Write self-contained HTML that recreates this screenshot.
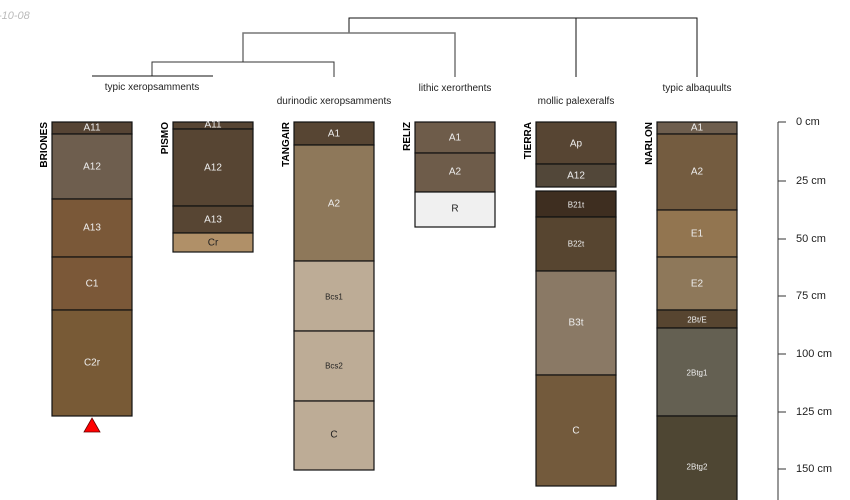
<!DOCTYPE html>
<html><head><meta charset="utf-8"><style>
html,body{margin:0;padding:0;background:#fff;}
svg{display:block;font-family:"Liberation Sans",sans-serif;}
.h{font-size:10px;fill:#eee;text-anchor:middle;dominant-baseline:central;}
.s{font-size:8px;}
.d{fill:#222;}
.n{font-size:10px;font-weight:bold;text-anchor:end;fill:#000;}
.l{font-size:10px;fill:#222;text-anchor:middle;}
.a{font-size:11px;fill:#222;}
rect{stroke:#111;stroke-width:1.2;}
</style></head><body>
<svg width="850" height="500" viewBox="0 0 850 500" xmlns="http://www.w3.org/2000/svg">
<text x="-2" y="19" font-size="11" font-style="italic" fill="#bbb">-10-08</text>
<!-- dendrogram -->
<g fill="none" stroke-width="1">
<polyline points="349,33 349,18 697,18 697,77" stroke="#111"/>
<line x1="576" y1="18" x2="576" y2="77" stroke="#111"/>
<polyline points="243,62 243,33 455,33 455,77" stroke="#777" stroke-width="1.5"/>
<polyline points="152,76 152,62 334,62 334,77" stroke="#333"/>
<line x1="92" y1="76" x2="213" y2="76" stroke="#111"/>
</g>
<text class="l" x="152" y="90">typic xeropsamments</text>
<text class="l" x="334" y="104">durinodic xeropsamments</text>
<text class="l" x="455" y="91">lithic xerorthents</text>
<text class="l" x="576" y="104">mollic palexeralfs</text>
<text class="l" x="697" y="91">typic albaquults</text>
<!-- BRIONES -->
<text class="n" transform="translate(47,122) rotate(-90)">BRIONES</text>
<rect x="52" y="122" width="80" height="12" fill="#564434"/><text class="h" x="92" y="128">A11</text>
<rect x="52" y="134" width="80" height="65" fill="#6e5e4e"/><text class="h" x="92" y="167">A12</text>
<rect x="52" y="199" width="80" height="58" fill="#7a5838"/><text class="h" x="92" y="228">A13</text>
<rect x="52" y="257" width="80" height="53" fill="#7b5838"/><text class="h" x="92" y="284">C1</text>
<rect x="52" y="310" width="80" height="106" fill="#785a36"/><text class="h" x="92" y="363">C2r</text>
<polygon points="92,418 100,432 84,432" fill="#f00" stroke="#600" stroke-width="0.8"/>
<!-- PISMO -->
<text class="n" transform="translate(168,122) rotate(-90)">PISMO</text>
<rect x="173" y="122" width="80" height="7" fill="#574533"/><text class="h" x="213" y="125">A11</text>
<rect x="173" y="129" width="80" height="77" fill="#574533"/><text class="h" x="213" y="168">A12</text>
<rect x="173" y="206" width="80" height="27" fill="#574533"/><text class="h" x="213" y="220">A13</text>
<rect x="173" y="233" width="80" height="19" fill="#b09068"/><text class="h d" x="213" y="243">Cr</text>
<!-- TANGAIR -->
<text class="n" transform="translate(289,122) rotate(-90)">TANGAIR</text>
<rect x="294" y="122" width="80" height="23" fill="#574533"/><text class="h" x="334" y="134">A1</text>
<rect x="294" y="145" width="80" height="116" fill="#8e785a"/><text class="h" x="334" y="204">A2</text>
<rect x="294" y="261" width="80" height="70" fill="#bdac96"/><text class="h s d" x="334" y="297">Bcs1</text>
<rect x="294" y="331" width="80" height="70" fill="#bdac96"/><text class="h s d" x="334" y="366">Bcs2</text>
<rect x="294" y="401" width="80" height="69" fill="#bdac96"/><text class="h d" x="334" y="435">C</text>
<!-- RELIZ -->
<text class="n" transform="translate(410,122) rotate(-90)">RELIZ</text>
<rect x="415" y="122" width="80" height="31" fill="#6e5c4a"/><text class="h" x="455" y="138">A1</text>
<rect x="415" y="153" width="80" height="39" fill="#6e5c4a"/><text class="h" x="455" y="172">A2</text>
<rect x="415" y="192" width="80" height="35" fill="#f0f0f0"/><text class="h d" x="455" y="209">R</text>
<!-- TIERRA -->
<text class="n" transform="translate(531,122) rotate(-90)">TIERRA</text>
<rect x="536" y="122" width="80" height="42" fill="#574533"/><text class="h" x="576" y="144">Ap</text>
<rect x="536" y="164" width="80" height="23" fill="#524739"/><text class="h" x="576" y="176">A12</text>
<rect x="536" y="191" width="80" height="26" fill="#3e2e20"/><text class="h s" x="576" y="205">B21t</text>
<rect x="536" y="217" width="80" height="54" fill="#574530"/><text class="h s" x="576" y="244">B22t</text>
<rect x="536" y="271" width="80" height="104" fill="#8a7965"/><text class="h" x="576" y="323">B3t</text>
<rect x="536" y="375" width="80" height="111" fill="#735a3c"/><text class="h" x="576" y="431">C</text>
<!-- NARLON -->
<text class="n" transform="translate(652,122) rotate(-90)">NARLON</text>
<rect x="657" y="122" width="80" height="12" fill="#6e5e4e"/><text class="h" x="697" y="128">A1</text>
<rect x="657" y="134" width="80" height="76" fill="#745c40"/><text class="h" x="697" y="172">A2</text>
<rect x="657" y="210" width="80" height="47" fill="#927550"/><text class="h" x="697" y="234">E1</text>
<rect x="657" y="257" width="80" height="53" fill="#8e785a"/><text class="h" x="697" y="284">E2</text>
<rect x="657" y="310" width="80" height="18" fill="#574530"/><text class="h s" x="697" y="320">2Bt/E</text>
<rect x="657" y="328" width="80" height="88" fill="#646052"/><text class="h s" x="697" y="373">2Btg1</text>
<rect x="657" y="416" width="80" height="90" fill="#4e4633"/><text class="h s" x="697" y="467">2Btg2</text>
<!-- scale -->
<g stroke="#777" stroke-width="1.5">
<line x1="778" y1="122" x2="778" y2="500"/>
<line x1="778" y1="122" x2="786" y2="122" stroke="#333" stroke-width="1"/>
<line x1="778" y1="181" x2="786" y2="181" stroke="#333" stroke-width="1"/>
<line x1="778" y1="239" x2="786" y2="239" stroke="#333" stroke-width="1"/>
<line x1="778" y1="296" x2="786" y2="296" stroke="#333" stroke-width="1"/>
<line x1="778" y1="354" x2="786" y2="354" stroke="#333" stroke-width="1"/>
<line x1="778" y1="412" x2="786" y2="412" stroke="#333" stroke-width="1"/>
<line x1="778" y1="469" x2="786" y2="469" stroke="#333" stroke-width="1"/>
</g>
<g class="a" dominant-baseline="central">
<text x="796" y="122">0 cm</text>
<text x="796" y="181">25 cm</text>
<text x="796" y="239">50 cm</text>
<text x="796" y="296">75 cm</text>
<text x="796" y="354">100 cm</text>
<text x="796" y="412">125 cm</text>
<text x="796" y="469">150 cm</text>
</g>
</svg>
</body></html>
